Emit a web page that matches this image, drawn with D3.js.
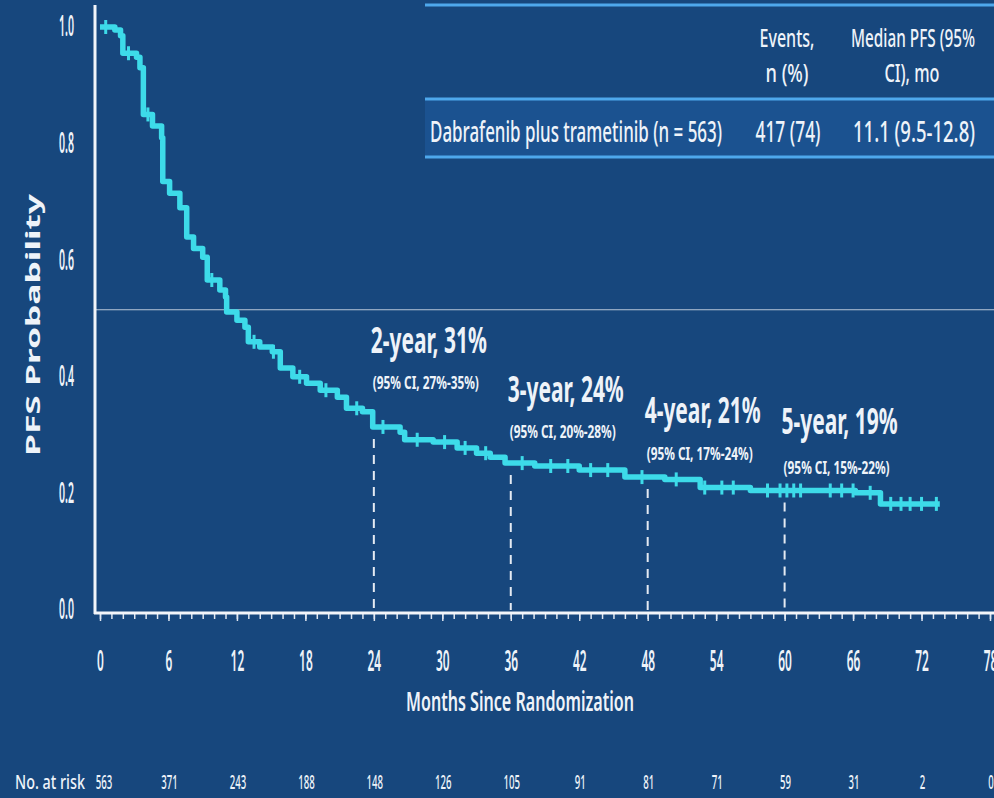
<!DOCTYPE html>
<html>
<head>
<meta charset="utf-8">
<script src="https://cdn.jsdelivr.net/npm/d3@7"></script>
<style>
  body { margin: 0; background: #17477d; }
  svg { display: block; }
  text { font-family: "Noto Sans", "DejaVu Sans", sans-serif; }
</style>
</head>
<body>
<div id="chart"></div>
<script>
// Kaplan-Meier steps (months, PFS probability)
var months = [0, 1.3, 1.8, 2.0, 3.2, 3.5, 3.8, 4.6, 5.4, 5.5, 6.1, 7.0, 7.6, 8.2, 9.0, 9.4, 10.5, 11.0, 11.1,
  12.0, 12.7, 13.0, 14.0, 15.1, 15.8, 16.9, 18.1, 19.3, 20.8, 21.6, 23.0, 23.9, 26.3, 26.7, 29.2, 31.3, 33.0,
  34.2, 35.5, 38.1, 42.0, 46.0, 49.5, 52.6, 57.0, 66.2, 68.4, 73.6];
var surv = [1.0, 0.995, 0.985, 0.955, 0.948, 0.93, 0.85, 0.83, 0.81, 0.735, 0.715, 0.69, 0.64, 0.62, 0.605, 0.566, 0.549, 0.537, 0.511,
  0.497, 0.485, 0.46, 0.451, 0.443, 0.415, 0.40, 0.389, 0.377, 0.365, 0.346, 0.34, 0.314, 0.305, 0.292, 0.288, 0.278, 0.269,
  0.262, 0.252, 0.247, 0.24, 0.228, 0.224, 0.21, 0.205, 0.201, 0.182, 0.182];
// censored observations (months)
var censorMonths = [0.5, 2.5, 4.2, 9.8, 13.5, 15.2, 17.5, 19.8, 22.5, 24.8, 27.8, 30.2, 32.0, 33.8, 37.0, 39.5,
  41.0, 43.0, 44.5, 47.5, 50.5, 53.0, 54.5, 55.5, 58.5, 59.6, 60.2, 60.8, 61.4, 64.0, 65.0, 66.0, 67.5,
  69.3, 70.2, 71.0, 72.0, 73.3];
var xTickValues = [0, 6, 12, 18, 24, 30, 36, 42, 48, 54, 60, 66, 72, 78];
var yTickValues = [0, 0.2, 0.4, 0.6, 0.8, 1.0];
var atRisk = [563, 371, 243, 188, 148, 126, 105, 91, 81, 71, 59, 31, 2, 0];
var medianLine = 0.515;
var landmarkMonths = [24, 36, 48, 60];
var landmarkLabels = ["2-year, 31%", "3-year, 24%", "4-year, 21%", "5-year, 19%"];
var landmarkCI = ["(95% CI, 27%-35%)", "(95% CI, 20%-28%)", "(95% CI, 17%-24%)", "(95% CI, 15%-22%)"];

var W = 994, H = 798;
var lineColor = "#3ddbe9";
var txt = "#eef3f9";
var svg = d3.select("#chart").append("svg").attr("width", W).attr("height", H);
svg.append("rect").attr("width", W).attr("height", H).attr("fill", "#17477d");

var x = d3.scaleLinear().domain([0, 78]).range([100, 990]);
var y = d3.scaleLinear().domain([0, 1]).range([610, 27]);

function survAt(m) {
  var i = d3.bisectRight(months, m) - 1;
  return surv[Math.max(0, i)];
}
// the slide font is very narrow: squeeze text to the width seen in the picture
function squeeze(sel, w) {
  sel.attr("textLength", w).attr("lengthAdjust", "spacingAndGlyphs");
  return sel;
}
function label(px, py, s, size, w, anchor, weight) {
  var t = svg.append("text").attr("x", px).attr("y", py).attr("fill", txt)
    .attr("font-size", size).attr("text-anchor", anchor || "start")
    .attr("font-weight", weight || "normal").text(s);
  return squeeze(t, w);
}

// table top right
svg.append("rect").attr("x", 425).attr("y", 100).attr("width", W - 425).attr("height", 56).attr("fill", "#1b5290");
[5, 99, 157].forEach(function(yy) {
  svg.append("line").attr("x1", 425).attr("x2", W).attr("y1", yy).attr("y2", yy)
    .attr("stroke", "#4ea8ec").attr("stroke-width", 3);
});
label(787, 47, "Events,", 26, 55, "middle", 500);
label(787, 82, "n (%)", 26, 43, "middle", 500);
label(913, 47, "Median PFS (95%", 26, 124, "middle", 500);
label(912, 82, "CI), mo", 26, 55, "middle", 500);
label(430, 142, "Dabrafenib plus trametinib (n = 563)", 28, 292, "start", 500);
label(788, 142, "417 (74)", 28, 65, "middle", 500);
label(914, 142, "11.1 (9.5-12.8)", 28, 122, "middle", 500);

// median reference line
svg.append("line").attr("x1", 96).attr("x2", W).attr("y1", y(medianLine)).attr("y2", y(medianLine))
  .attr("stroke", "#b9c6d8").attr("stroke-width", 1);

// landmark dashed lines
landmarkMonths.forEach(function(m) {
  svg.append("line").attr("x1", x(m)).attr("x2", x(m))
    .attr("y1", y(survAt(m)) + 12).attr("y2", y(0))
    .attr("stroke", "#e4eaf2").attr("stroke-width", 2).attr("stroke-dasharray", "9,7");
});

// KM curve
var pts = months.map(function(m, i) { return [m, surv[i]]; });
var line = d3.line().x(function(d) { return x(d[0]); }).y(function(d) { return y(d[1]); }).curve(d3.curveStepAfter);
svg.append("path").datum(pts).attr("d", line).attr("fill", "none")
  .attr("stroke", lineColor).attr("stroke-width", 5.5).attr("stroke-linejoin", "round");
svg.selectAll(".censor").data(censorMonths).enter().append("line").attr("class", "censor")
  .attr("x1", function(d) { return x(d); }).attr("x2", function(d) { return x(d); })
  .attr("y1", function(d) { return y(survAt(d)) - 7; }).attr("y2", function(d) { return y(survAt(d)) + 7; })
  .attr("stroke", lineColor).attr("stroke-width", 3);

// axes
var minor = svg.append("g").attr("transform", "translate(0,613)")
  .call(d3.axisBottom(x).tickValues(d3.range(0, 79, 1)).tickSize(6).tickFormat(""));
var major = svg.append("g").attr("transform", "translate(0,613)")
  .call(d3.axisBottom(x).tickValues(xTickValues).tickSize(8).tickPadding(30).tickFormat(d3.format("d")));
[minor, major].forEach(function(g) {
  g.select(".domain").remove();
  g.selectAll(".tick line").attr("stroke", "#dfe6f0").attr("stroke-width", 1.5);
});
major.selectAll("text").attr("fill", txt).attr("font-size", 28).attr("font-weight", 600)
  .each(function(d) { squeeze(d3.select(this), String(d).length * 6.8); });

var yAx = svg.append("g").attr("transform", "translate(95,0)")
  .call(d3.axisLeft(y).tickValues(yTickValues).tickSize(0).tickPadding(21).tickFormat(d3.format(".1f")));
yAx.select(".domain").remove();
yAx.selectAll("text").attr("fill", txt).attr("font-size", 28).attr("font-weight", 600)
  .each(function() { squeeze(d3.select(this), 15); });

svg.append("line").attr("x1", 95).attr("x2", 95).attr("y1", 5).attr("y2", 614)
  .attr("stroke", "#f2f5fa").attr("stroke-width", 3);
svg.append("line").attr("x1", 94).attr("x2", W).attr("y1", 613).attr("y2", 613)
  .attr("stroke", "#f2f5fa").attr("stroke-width", 3);

// axis titles
label(520, 711, "Months Since Randomization", 27, 228, "middle", 600);
squeeze(svg.append("text").attr("transform", "translate(40,325) rotate(-90)").attr("text-anchor", "middle")
  .attr("font-family", "DejaVu Sans").attr("font-weight", "bold").attr("font-size", 20)
  .attr("fill", txt).text("PFS Probability"), 262);

// landmark labels
var bigY = [353, 402, 423, 434], ciY = [389, 438, 460, 474];
landmarkMonths.forEach(function(m, i) {
  label(x(m) - 3, bigY[i], landmarkLabels[i], 36, 116, "start", "bold");
  label(x(m) - 1, ciY[i], landmarkCI[i], 18, 106, "start", "bold");
});

// number at risk
label(15, 789, "No. at risk", 19, 70, "start", 500);
atRisk.forEach(function(d, i) {
  var s = String(d);
  label(x(xTickValues[i]) + (i === 0 ? 4 : 1), 789, s, 19, s.length * 5.5, "middle", 500);
});
</script>
</body>
</html>
